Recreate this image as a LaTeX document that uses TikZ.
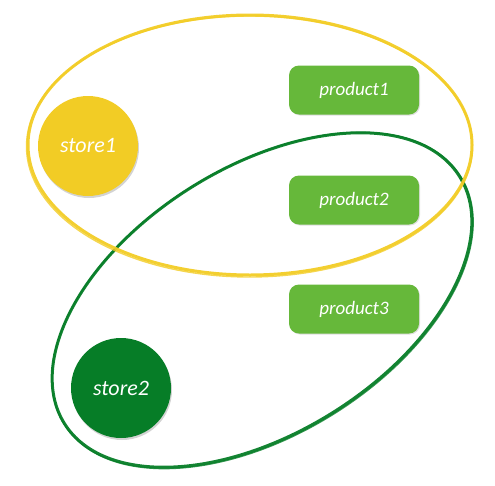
\documentclass[tikz,border=0pt]{standalone}
\usepackage{fontspec}
\setmainfont{Carlito}
\usetikzlibrary{shadows}
\definecolor{storeyellow}{HTML}{F2CC25}
\definecolor{storegreen}{HTML}{067D27}
\definecolor{prodgreen}{HTML}{66B83A}
\tikzset{
  store/.style={circle, minimum size=100pt, inner sep=0pt, text=white,
    font=\itshape\fontsize{22}{22}\selectfont,
    drop shadow={opacity=0.35, shadow xshift=1pt, shadow yshift=-2pt}},
  product/.style={rectangle, rounded corners=10pt, fill=prodgreen,
    minimum width=130pt, minimum height=49pt, text=white,
    font=\itshape\fontsize{19}{19}\selectfont,
    drop shadow={opacity=0.25, shadow xshift=1pt, shadow yshift=-1pt}},
  brush/.style={line width=3pt, opacity=0.95},
  brushthin/.style={line width=1.4pt, opacity=0.8}
}
\begin{document}
\begin{tikzpicture}[x=1pt,y=-1pt]
  \useasboundingbox (0,0) rectangle (495,485);

  % green set, drawn first
  \draw[storegreen, brush, rotate around={32:(262,300)}] (262,300) ellipse [x radius=233, y radius=133];
  \draw[storegreen, brushthin, rotate around={32:(262.5,300.5)}] (262.5,300.5) ellipse [x radius=233.8, y radius=134];

  % yellow set on top
  \draw[storeyellow, brush] (250,145) ellipse [x radius=222, y radius=130];
  \draw[storeyellow, brushthin] (249.5,146.5) ellipse [x radius=223, y radius=130.5];

  \node[store, fill=storeyellow] (store1) at (88,146) {store1};
  \node[store, fill=storegreen] (store2) at (121,388) {store2};

  \node[product] (product1) at (354,90) {product1};
  \node[product] (product2) at (354,200) {product2};
  \node[product] (product3) at (354,309) {product3};

\end{tikzpicture}
\end{document}
